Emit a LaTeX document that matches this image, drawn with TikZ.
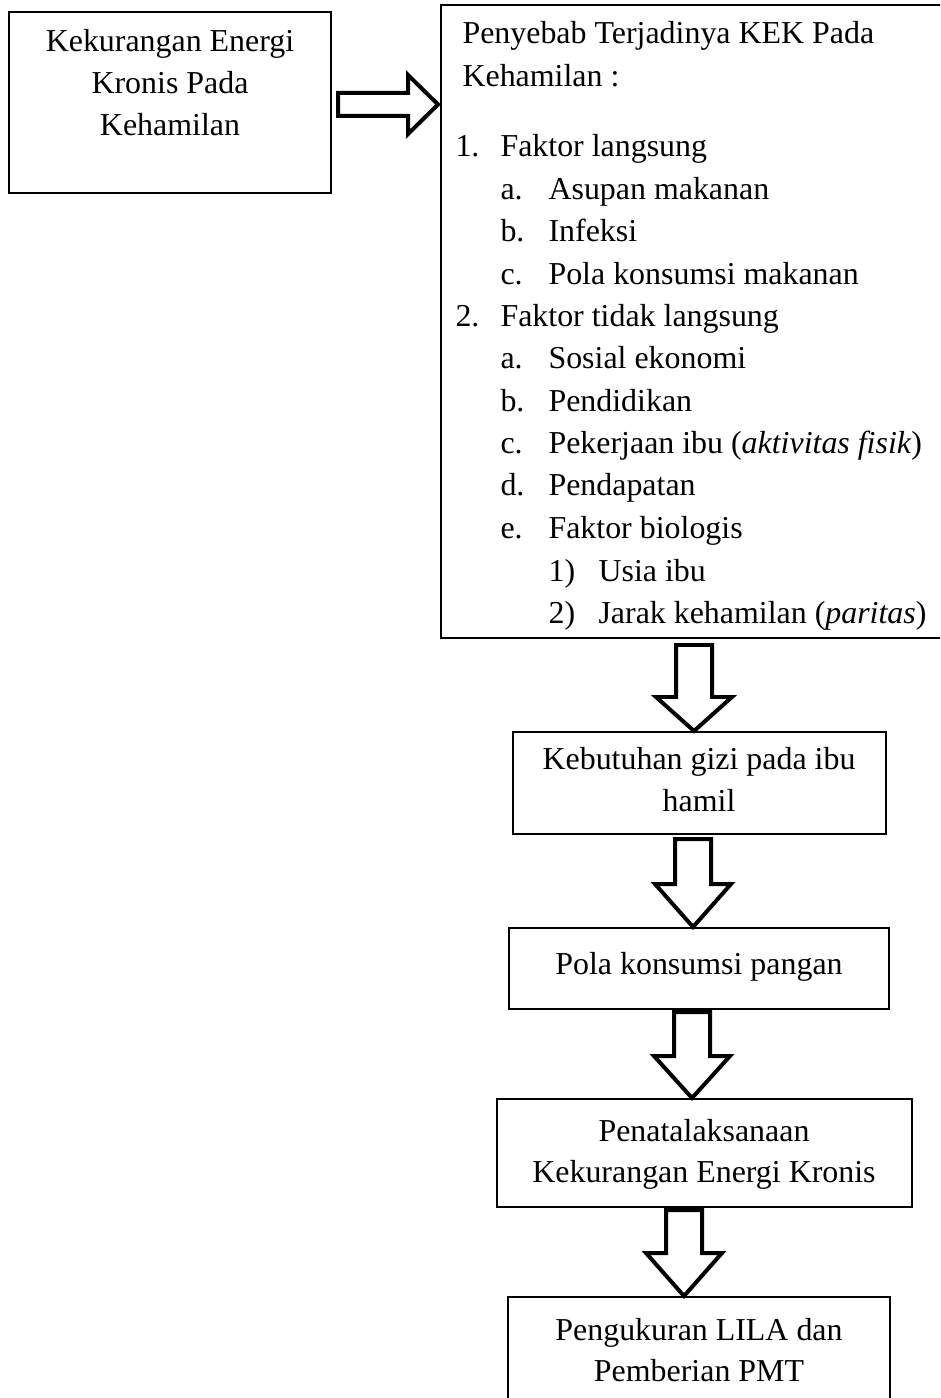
\documentclass[tikz,border=0pt]{standalone}
\usepackage{fontspec}
\setmainfont{Liberation Serif}
% x centre, top, head base, tip
\newcommand\downblock[4]{%
  \draw[blockarrow] (#1-18,#2) -- (#1+18,#2) -- (#1+18,#3) -- (#1+38,#3)
    -- (#1,#4) -- (#1-38,#3) -- (#1-18,#3) -- cycle;}
\begin{document}
\begin{tikzpicture}[x=0.376pt,y=-0.376pt,
  box/.style={draw, line width=0.6pt},
  blockarrow/.style={draw, line width=1.5pt, line join=miter, fill=white},
  txt/.style={anchor=base west, inner sep=0pt, font=\fontsize{12}{15.9}\selectfont},
  ctxt/.style={anchor=base, inner sep=0pt, font=\fontsize{12}{15.9}\selectfont}]
\useasboundingbox (0,0) rectangle (940,1398);
\clip (0,0) rectangle (940,1398);
\fill[white] (0,0) rectangle (940,1398);

% left box
\draw[box] (9,12) rectangle (331,193);
\node[ctxt] (l1) at (170,52) {Kekurangan Energi};
\node[ctxt] (l2) at (170,94) {Kronis Pada};
\node[ctxt] (l3) at (170,136) {Kehamilan};

% right arrow
\draw[blockarrow] (338,93) -- (408,93) -- (408,75) -- (438,104.5) -- (408,134)
  -- (408,116) -- (338,116) -- cycle;

% right box
\draw[box] (441,5) rectangle (960,638);
\node[txt] (r0) at (462,44) {Penyebab Terjadinya KEK Pada};
\node[txt] (r1) at (462,87) {Kehamilan :};
\node[txt] (n1) at (455,157) {1.};
\node[txt] (t1) at (500,157) {Faktor langsung};
\node[txt] (n1a) at (500,200) {a.};
\node[txt] (t1a) at (548,200) {Asupan makanan};
\node[txt] (n1b) at (500,242) {b.};
\node[txt] (t1b) at (548,242) {Infeksi};
\node[txt] (n1c) at (500,285) {c.};
\node[txt] (t1c) at (548,285) {Pola konsumsi makanan};
\node[txt] (n2) at (455,327) {2.};
\node[txt] (t2) at (500,327) {Faktor tidak langsung};
\node[txt] (n2a) at (500,369) {a.};
\node[txt] (t2a) at (548,369) {Sosial ekonomi};
\node[txt] (n2b) at (500,412) {b.};
\node[txt] (t2b) at (548,412) {Pendidikan};
\node[txt] (n2c) at (500,454) {c.};
\node[txt] (t2c) at (548,454) {Pekerjaan ibu (\textit{aktivitas fisik})};
\node[txt] (n2d) at (500,496) {d.};
\node[txt] (t2d) at (548,496) {Pendapatan};
\node[txt] (n2e) at (500,539) {e.};
\node[txt] (t2e) at (548,539) {Faktor biologis};
\node[txt] (n2e1) at (548,581) {1)};
\node[txt] (t2e1) at (598,581) {Usia ibu};
\node[txt] (n2e2) at (548,623) {2)};
\node[txt] (t2e2) at (598,623) {Jarak kehamilan (\textit{paritas})};

% arrow 1
\downblock{694}{645}{697}{731}

% box 2
\draw[box] (513,732) rectangle (886,834);
\node[ctxt] (b2a) at (699,769) {Kebutuhan gizi pada ibu};
\node[ctxt] (b2b) at (699,811) {hamil};

% arrow 2
\downblock{693}{839}{884}{927}

% box 3
\draw[box] (509,928) rectangle (889,1009);
\node[ctxt] (b3) at (699,974) {Pola konsumsi pangan};

% arrow 3
\downblock{692}{1012}{1056}{1098}

% box 4
\draw[box] (497,1099) rectangle (912,1207);
\node[ctxt] (b4a) at (704,1141) {Penatalaksanaan};
\node[ctxt] (b4b) at (704,1182) {Kekurangan Energi Kronis};

% arrow 4
\downblock{684}{1210}{1253}{1296}

% box 5
\draw[box] (508,1297) rectangle (890,1420);
\node[ctxt] (b5a) at (699,1340) {Pengukuran LILA dan};
\node[ctxt] (b5b) at (699,1381) {Pemberian PMT};
\end{tikzpicture}
\end{document}
